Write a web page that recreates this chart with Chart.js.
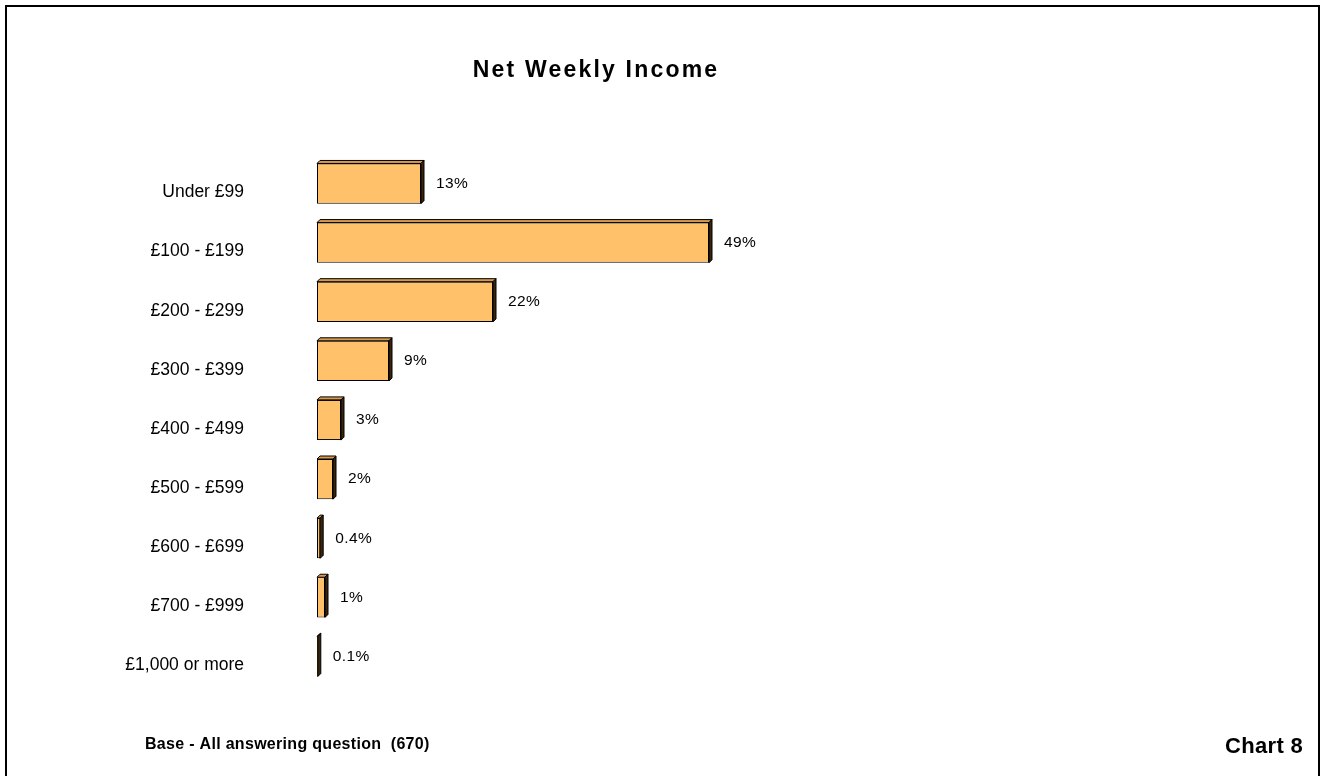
<!DOCTYPE html>
<html>
<head>
<meta charset="utf-8">
<title>Net Weekly Income</title>
<script src="https://cdn.jsdelivr.net/npm/chart.js@4"></script>
<style>
  html, body { margin: 0; padding: 0; background: #fff; }
  #wrap { width: 1321px; height: 776px; position: relative; }
</style>
</head>
<body>
<div id="wrap"><canvas id="incomeChart" width="1321" height="776"></canvas></div>
<script>
const bands = ["Under £99", "£100 - £199", "£200 - £299", "£300 - £399", "£400 - £499",
               "£500 - £599", "£600 - £699", "£700 - £999", "£1,000 or more"];
const percentages = [13, 49, 22, 9, 3, 2, 0.4, 1, 0.1];

const chartTitle = "Net Weekly Income";
const baseNote = "Base - All answering question  (670)";
const chartRef = "Chart 8";

const FONT = "'Liberation Sans', Arial, Helvetica, sans-serif";
const DEPTH = 3;

// extruded top and side faces, plus the % labels beside each bar
const barDepth = {
    id: "barDepth",
    afterDatasetsDraw(chart) {
        const ctx = chart.ctx;
        const meta = chart.getDatasetMeta(0);
        meta.data.forEach((bar, i) => {
            const p = bar.getProps(["x", "y", "base", "height"], true);
            const left = p.base, right = p.x;
            const top = p.y - p.height / 2, bottom = p.y + p.height / 2;
            ctx.save();
            ctx.lineWidth = 1;
            ctx.strokeStyle = "#000";
            // top face
            ctx.beginPath();
            ctx.moveTo(left, top);
            ctx.lineTo(left + DEPTH, top - DEPTH);
            ctx.lineTo(right + DEPTH, top - DEPTH);
            ctx.lineTo(right, top);
            ctx.closePath();
            ctx.fillStyle = "#d69a4c";
            ctx.fill();
            ctx.stroke();
            // side face
            ctx.beginPath();
            ctx.moveTo(right, top);
            ctx.lineTo(right + DEPTH, top - DEPTH);
            ctx.lineTo(right + DEPTH, bottom - DEPTH);
            ctx.lineTo(right, bottom);
            ctx.closePath();
            ctx.fillStyle = "#3a240c";
            ctx.fill();
            ctx.stroke();

            ctx.fillStyle = "#000";
            ctx.font = "15.5px " + FONT;
            ctx.letterSpacing = "0.4px";
            ctx.textAlign = "left";
            ctx.textBaseline = "middle";
            ctx.fillText(percentages[i] + "%", right + 15, p.y);
            ctx.restore();
        });
    }
};

// frame, heading and notes
const pageText = {
    id: "pageText",
    afterDraw(chart) {
        const ctx = chart.ctx;
        ctx.save();
        ctx.strokeStyle = "#000";
        ctx.lineWidth = 2;
        ctx.beginPath();
        ctx.moveTo(6, 780);
        ctx.lineTo(6, 6);
        ctx.lineTo(1319, 6);
        ctx.lineTo(1319, 780);
        ctx.stroke();

        ctx.fillStyle = "#000";
        ctx.textBaseline = "alphabetic";

        ctx.font = "bold 23px " + FONT;
        ctx.letterSpacing = "2.2px";
        ctx.textAlign = "center";
        ctx.fillText(chartTitle, 596, 77);

        ctx.letterSpacing = "0.3px";
        ctx.font = "bold 16px " + FONT;
        ctx.textAlign = "left";
        ctx.fillText(baseNote, 145, 749);

        ctx.letterSpacing = "0.3px";
        ctx.font = "bold 22px " + FONT;
        ctx.textAlign = "right";
        ctx.fillText(chartRef, 1303, 753);
        ctx.restore();
    }
};

new Chart(document.getElementById("incomeChart"), {
    type: "bar",
    data: {
        labels: bands,
        datasets: [{
            data: percentages,
            backgroundColor: "#ffc26b",
            borderColor: "#000",
            borderWidth: 1,
            borderSkipped: false,
            categoryPercentage: 1,
            barPercentage: 0.68
        }]
    },
    options: {
        indexAxis: "y",
        responsive: false,
        animation: false,
        layout: {
            padding: { top: 154, bottom: 90, right: 204, left: 0 }
        },
        scales: {
            x: {
                display: false,
                min: 0,
                max: 100
            },
            y: {
                grid: { display: false, drawTicks: false },
                border: { display: false },
                ticks: {
                    color: "#000",
                    font: { family: FONT, size: 17.5 },
                    padding: 73,
                    labelOffset: 9
                },
                afterFit(scale) { scale.width = 317; }
            }
        },
        plugins: {
            legend: { display: false },
            tooltip: { enabled: false }
        }
    },
    plugins: [barDepth, pageText]
});
</script>
</body>
</html>
